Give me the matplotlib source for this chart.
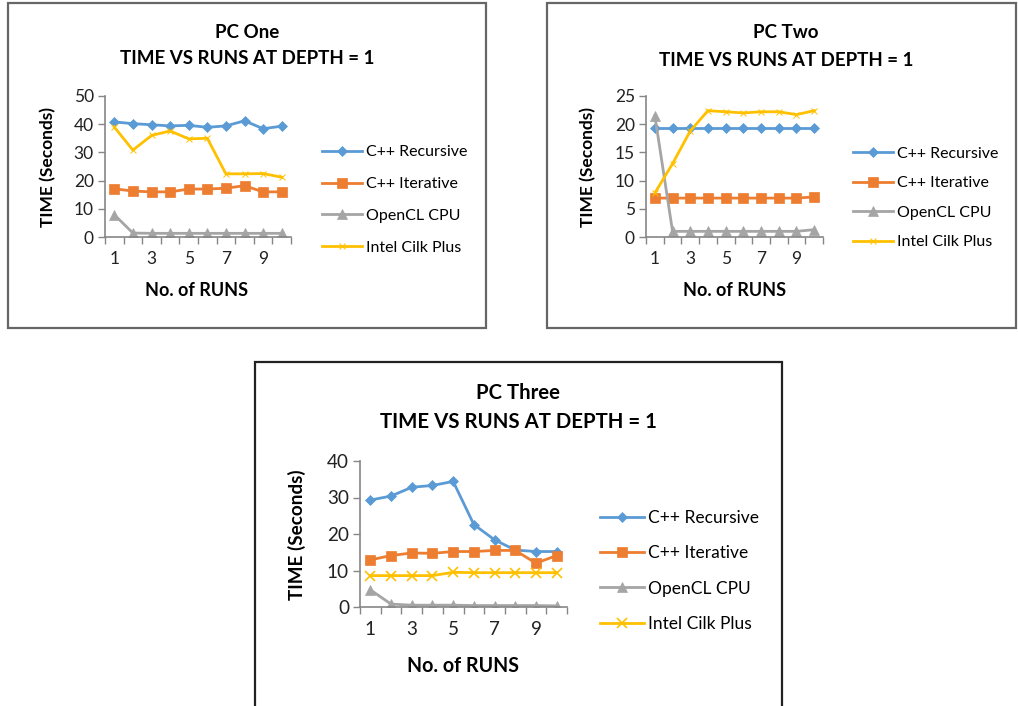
import matplotlib
matplotlib.use("Agg")
import matplotlib.pyplot as plt
from matplotlib.patches import Rectangle
import numpy as np

plt.rcParams['font.family'] = ['Lato', 'DejaVu Sans']

runs = list(range(1, 11))
series_names = ['C++ Recursive', 'C++ Iterative', 'OpenCL CPU', 'Intel Cilk Plus']

# PC One
pc1_recursive = [40.8, 40.2, 39.8, 39.4, 39.6, 38.9, 39.4, 41.2, 38.4, 39.3]
pc1_iterative = [17.1, 16.3, 16.0, 16.0, 17.0, 17.0, 17.3, 18.2, 16.0, 16.0]
pc1_opencl = [7.9, 1.4, 1.3, 1.3, 1.3, 1.3, 1.3, 1.3, 1.3, 1.3]
pc1_cilk = [39.0, 30.8, 36.0, 37.6, 34.8, 35.0, 22.4, 22.4, 22.5, 21.2]

# PC Two
pc2_recursive = [19.3, 19.3, 19.3, 19.3, 19.3, 19.3, 19.3, 19.3, 19.3, 19.3]
pc2_iterative = [6.9, 6.9, 6.9, 6.9, 6.9, 6.9, 6.9, 6.9, 6.9, 7.1]
pc2_opencl = [21.5, 1.0, 1.0, 1.0, 1.0, 1.0, 1.0, 1.0, 1.0, 1.3]
pc2_cilk = [7.8, 13.0, 18.8, 22.4, 22.2, 22.0, 22.2, 22.2, 21.7, 22.4]

# PC Three
pc3_recursive = [29.3, 30.4, 32.8, 33.3, 34.4, 22.6, 18.4, 15.6, 15.2, 15.2]
pc3_iterative = [12.9, 14.1, 14.8, 14.7, 15.2, 15.2, 15.5, 15.5, 12.0, 14.1]
pc3_opencl = [4.7, 0.8, 0.5, 0.5, 0.5, 0.4, 0.4, 0.4, 0.4, 0.3]
pc3_cilk = [8.6, 8.6, 8.6, 8.6, 9.5, 9.4, 9.4, 9.4, 9.4, 9.4]

colors = ['#5B9BD5', '#ED7D31', '#A5A5A5', '#FFC000']
markers = ['D', 's', '^', 'x']
msizes = [5, 7, 7, 6]

W, H = 1018, 706
fig = plt.figure(figsize=(W / 100, H / 100), dpi=100)


def px_axes(x0, x1, ytop, ybot):
    return fig.add_axes([x0 / W, 1 - ybot / H, (x1 - x0) / W, (ybot - ytop) / H])


def panel(box, ax_px, ymax, ystep, data, title, title_xy, ylab_xy, xlab_xy, leg_xy,
          leg_space, box_color, faint_x, fs=1.0):
    bx0, by0, bx1, by1 = box
    fig.patches.append(Rectangle((bx0 / W, 1 - by1 / H), (bx1 - bx0) / W, (by1 - by0) / H,
                                 transform=fig.transFigure, fill=False,
                                 edgecolor=box_color, linewidth=1.6))
    ax = px_axes(*ax_px)
    handles = []
    for vals, name, c, m, ms in zip(data, series_names, colors, markers, msizes):
        if m == 'x':
            lw_m = 0.7 if faint_x else 1.2
            ms = 5 if faint_x else 7
        else:
            lw_m = 0.5
        h, = ax.plot(runs, vals, color=c, marker=m, markersize=ms, linewidth=2.0,
                     markeredgewidth=lw_m, label=name)
        handles.append(h)
    ax.set_xlim(0.5, 10.5)
    ax.set_ylim(0, ymax)
    ax.set_yticks(np.arange(0, ymax + 0.1, ystep))
    ax.set_xticks([1, 3, 5, 7, 9])
    ax.set_xticks(np.arange(0.5, 10.6, 1), minor=True)
    ax.tick_params(axis='x', which='major', length=0, labelsize=12.5 * fs, pad=10, colors='#222222')
    ax.tick_params(axis='x', which='minor', length=5, width=1, color='#868686', direction='out')
    ax.tick_params(axis='y', length=5, width=1, color='#868686', labelsize=12.5 * fs, pad=3,
                   labelcolor='#222222')
    for s in ['top', 'right']:
        ax.spines[s].set_visible(False)
    for s in ['left', 'bottom']:
        ax.spines[s].set_color('#868686')
        ax.spines[s].set_linewidth(1.2)
    ax.patch.set_alpha(0)

    tx, ty1, ty2 = title_xy
    fig.text(tx / W, 1 - ty1 / H, title, ha='center', va='center',
             fontsize=13.5 * fs, fontweight='bold')
    fig.text(tx / W, 1 - ty2 / H, 'TIME VS RUNS AT DEPTH = 1', ha='center', va='center',
             fontsize=13.5 * fs, fontweight='bold')
    fig.text(ylab_xy[0] / W, 1 - ylab_xy[1] / H, 'TIME (Seconds)', rotation=90,
             ha='center', va='center', fontsize=12.5 * fs, fontweight='bold')
    fig.text(xlab_xy[0] / W, 1 - xlab_xy[1] / H, 'No. of RUNS', ha='center', va='center',
             fontsize=13 * fs, fontweight='bold')
    fig.legend(handles=handles, loc='center left',
               bbox_to_anchor=(leg_xy[0] / W, 1 - leg_xy[1] / H),
               frameon=False, fontsize=11.5 * fs, handlelength=2.5, handletextpad=0.25,
               labelspacing=leg_space, borderpad=0, borderaxespad=0)
    return ax


panel((8, 3, 486, 328), (105, 291, 96, 237), 50, 10,
      [pc1_recursive, pc1_iterative, pc1_opencl, pc1_cilk], 'PC One',
      (247, 33, 59), (48, 167), (197, 291), (322, 200), 1.1, '#666666', True)

panel((547, 3, 1016, 328), (646, 823, 96, 237), 25, 5,
      [pc2_recursive, pc2_iterative, pc2_opencl, pc2_cilk], 'PC Two',
      (786, 33, 60), (588, 167), (735, 290), (853, 198), 0.95, '#666666', True)

panel((255, 362, 782, 720), (360, 567, 461, 607), 40, 10,
      [pc3_recursive, pc3_iterative, pc3_opencl, pc3_cilk], 'PC Three',
      (518, 393, 422), (297, 535), (463, 666), (600, 571), 1.1, '#222222', False, fs=1.09)

fig.savefig('out.png', dpi=100)
